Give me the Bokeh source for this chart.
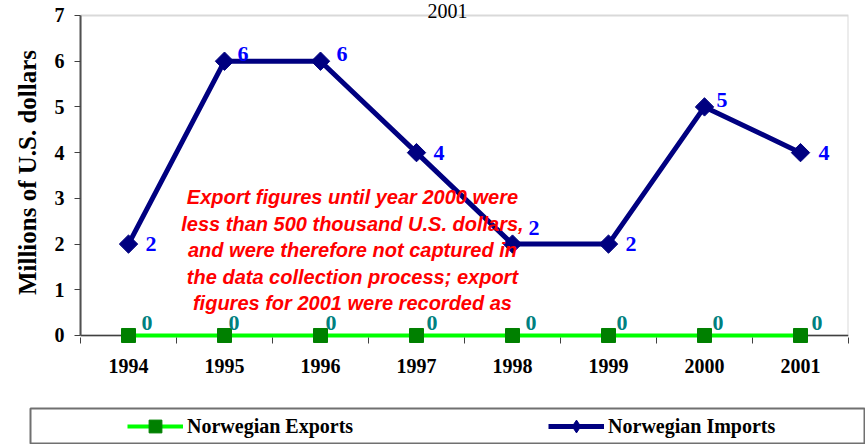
import numpy as np
from bokeh.plotting import figure
from bokeh.layouts import column
from bokeh.models import (Range1d, FixedTicker, Label, Legend, LegendItem,
                          BoxAnnotation, ColumnDataSource, Span)
from bokeh.core.properties import value
from bokeh.embed import file_html
from bokeh.resources import INLINE

# ---- data ----
years = ["1994", "1995", "1996", "1997", "1998", "1999", "2000", "2001"]
exports = [0, 0, 0, 0, 0, 0, 0, 0]
imports = [2, 6, 6, 4, 2, 2, 5, 4]
y_ticks = [0, 1, 2, 3, 4, 5, 6, 7]
title_text = "2001"
y_label = "Millions of U.S. dollars"
export_name = "Norwegian Exports"
import_name = "Norwegian Imports"
note_lines = [
    "Export figures until year 2000 were",
    "less than 500 thousand U.S. dollars,",
    "and were therefore not captured in",
    "the data collection process; export",
    "figures for 2001 were recorded as",
]

# label placement (screen pixel offsets)
imp_dx = [17, 13, 16, 17, 16, 17, 12, 18]
imp_dy = [0, -7, -7, 0, -16, 0, -7, 0]
exp_dx = [13, 4, 5, 10, 13, 8, 8, 11]
exp_dy = [-12] * len(years)

xs = [i + 0.5 for i in range(len(years))]
src = ColumnDataSource(dict(
    x=xs, exports=exports, imports=imports,
    exp_text=[str(v) for v in exports], imp_text=[str(v) for v in imports],
    imp_dx=imp_dx, imp_dy=imp_dy, exp_dx=exp_dx, exp_dy=exp_dy,
))

SERIF = "Liberation Serif"
Y_MAX = y_ticks[-1]

p = figure(width=865, height=400,
           x_range=Range1d(0, len(years)), y_range=Range1d(-0.175, Y_MAX + 0.306),
           output_backend="svg", toolbar_location=None,
           min_border_left=80, min_border_right=17,
           min_border_top=1, min_border_bottom=57)
p.background_fill_color = "white"
p.border_fill_color = "white"
p.outline_line_color = None
p.xgrid.visible = False
p.ygrid.visible = False

# x axis: labels at centres, tick marks at category boundaries (minor ticks)
p.xaxis.ticker = FixedTicker(ticks=xs, minor_ticks=list(range(len(years) + 1)))
p.xaxis.major_label_overrides = {x: y for x, y in zip(xs, years)}
p.xaxis.axis_line_color = None
p.xaxis.major_tick_line_color = None
p.xaxis.minor_tick_line_color = "#404040"
p.xaxis.minor_tick_in = 6
p.xaxis.minor_tick_out = 0
p.xaxis.major_label_standoff = 9

# y axis
p.yaxis.ticker = FixedTicker(ticks=y_ticks)
p.yaxis.bounds = (0, Y_MAX)
p.yaxis.minor_tick_line_color = None
p.yaxis.major_tick_in = 0
p.yaxis.major_tick_out = 6
p.yaxis.major_tick_line_color = "#404040"
p.yaxis.axis_line_color = "#505050"
p.yaxis.axis_line_width = 2
p.yaxis.major_label_standoff = 10
p.yaxis.axis_label = y_label
p.yaxis.axis_label_standoff = 11
p.yaxis.axis_label_text_font = SERIF
p.yaxis.axis_label_text_font_style = "bold"
p.yaxis.axis_label_text_font_size = "25px"
p.yaxis.axis_label_text_color = "black"

for ax in (p.xaxis, p.yaxis):
    ax.major_label_text_font = SERIF
    ax.major_label_text_font_style = "bold"
    ax.major_label_text_font_size = "20px"
    ax.major_label_text_color = "black"

# plot-area border (top / right) and x axis line at y=0
p.add_layout(BoxAnnotation(left=0, right=len(years), bottom=0, top=Y_MAX,
                           fill_alpha=0, line_color="#808080", line_width=2,
                           level="underlay"))
p.add_layout(Span(location=0, dimension="width", line_color="#404040",
                  line_width=1.5, level="underlay"))

# series
r_exp_line = p.line("x", "exports", source=src, line_color="#00FF00", line_width=4)
r_exp_pts = p.scatter("x", "exports", source=src, marker="square", size=14,
                      fill_color="#008000", line_color="#008000")
r_imp_line = p.line("x", "imports", source=src, line_color="#000080", line_width=5)
r_imp_pts = p.scatter("x", "imports", source=src, marker="square", angle=np.pi / 4,
                      size=13, fill_color="#000080", line_color="#000080")

# data labels
p.text("x", "imports", text="imp_text", source=src, x_offset="imp_dx", y_offset="imp_dy",
       text_font=value(SERIF), text_font_style="bold", text_font_size="22px",
       text_color="#0000FF", text_align="left", text_baseline="middle")
p.text("x", "exports", text="exp_text", source=src, x_offset="exp_dx", y_offset="exp_dy",
       text_font=value(SERIF), text_font_style="bold", text_font_size="22px",
       text_color="#008080", text_align="left", text_baseline="middle")

# note text
for i, line in enumerate(note_lines):
    p.add_layout(Label(x=2.833, y=3.02 - 0.58 * i, text=line,
                       text_align="center", text_baseline="middle",
                       text_color="#FF0000", text_font="Liberation Sans",
                       text_font_style="bold italic", text_font_size="20px"))

# title (sits on the top border)
p.add_layout(Label(x=3.823, y=7.09, text=title_text, text_align="center",
                   text_baseline="middle", text_font=SERIF,
                   text_font_size="20px", text_color="black"))

# ---- legend strip ----
q = figure(width=865, height=44, x_range=Range1d(0, 1), y_range=Range1d(100, 101),
           x_axis_type=None, y_axis_type=None, output_backend="svg",
           toolbar_location=None, min_border_left=30, min_border_right=0,
           min_border_top=8, min_border_bottom=0)
q.frame_align = False
q.grid.visible = False
q.background_fill_color = "white"
q.border_fill_color = "white"
q.outline_line_color = "#707070"
q.outline_line_width = 2

# legend sample renderers (data lies outside this strip's ranges, so only the legend shows)
l_exp_line = q.line("x", "exports", source=src, line_color="#00FF00", line_width=4)
l_exp_pts = q.scatter("x", "exports", source=src, marker="square", size=14,
                      fill_color="#008000", line_color="#008000")
l_imp_line = q.line("x", "imports", source=src, line_color="#000080", line_width=5)
l_imp_pts = q.scatter("x", "imports", source=src, marker="diamond", size=14,
                      fill_color="#000080", line_color="#000080")

legend = Legend(items=[LegendItem(label=export_name, renderers=[l_exp_line, l_exp_pts]),
                       LegendItem(label=import_name, renderers=[l_imp_line, l_imp_pts])],
                location=(97, 2), orientation="horizontal", spacing=195,
                padding=0, margin=0, glyph_width=56, glyph_height=32, label_height=30,
                label_standoff=4, label_text_font=SERIF, label_text_font_style="bold",
                label_text_font_size="20px", label_text_color="black",
                border_line_color=None, background_fill_alpha=0)
q.add_layout(legend)

layout = column(p, q, spacing=0)
open("out.html", "w").write(file_html(layout, INLINE))
